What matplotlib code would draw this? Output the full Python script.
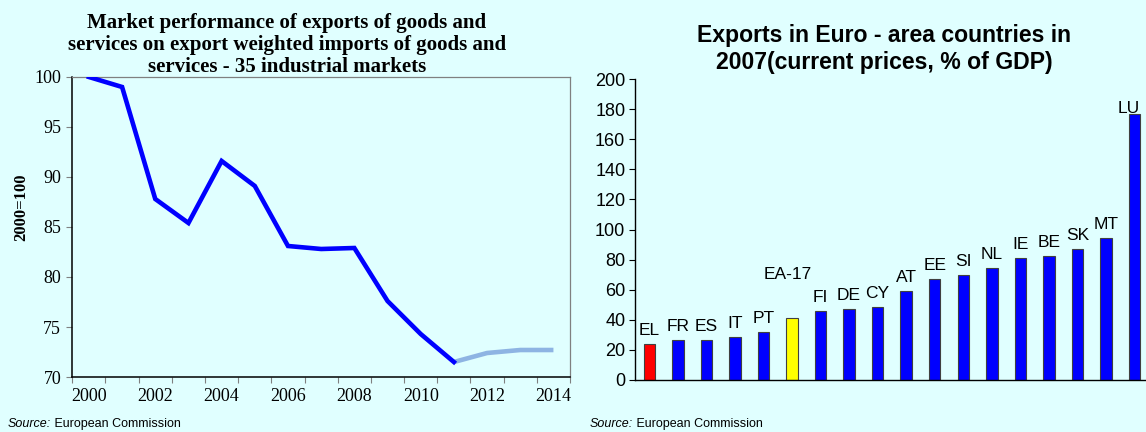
import numpy as np
import matplotlib.pyplot as plt

# --- donnees graphique de gauche
annees = [2000, 2001, 2002, 2003, 2004, 2005, 2006, 2007, 2008, 2009, 2010, 2011, 2012, 2013, 2014]
performance = [100, 99.0, 87.8, 85.4, 91.6, 89.1, 83.1, 82.8, 82.9, 77.6, 74.3, 71.5, 72.4, 72.7, 72.7]
derniere_annee_obs = 2011

# --- donnees graphique de droite
pays = ['EL', 'FR', 'ES', 'IT', 'PT', 'EA-17', 'FI', 'DE', 'CY', 'AT', 'EE', 'SI',
        'NL', 'IE', 'BE', 'SK', 'MT', 'LU']
exports = [23.7, 26.6, 26.6, 28.6, 31.9, 41.2, 45.6, 47.0, 48.3, 58.9, 66.9, 69.5,
           74.4, 80.8, 82.6, 86.8, 94.4, 176.5]

fond = '#E0FFFF'
serif = 'Liberation Serif'
sans = 'Liberation Sans'

fig = plt.figure(figsize=(11.46, 4.32), dpi=100, facecolor=fond)

# ---------------- gauche
ax1 = fig.add_axes([0.0631, 0.1273, 0.4343, 0.6945], facecolor=fond)
x = np.arange(len(annees))
i_split = annees.index(derniere_annee_obs)
ax1.plot(x[i_split:], performance[i_split:], color='#8EB4E3', lw=3.3, solid_capstyle='butt', zorder=2)
ax1.plot(x[:i_split + 1], performance[:i_split + 1], color='#0000FF', lw=3.3,
         solid_joinstyle='miter', zorder=3)
ax1.set_xlim(-0.5, len(annees) - 0.5)
ax1.set_ylim(70, 100)
ax1.set_yticks(np.arange(70, 101, 5))
ax1.set_xticks(np.arange(-0.5, len(annees), 1))
ax1.set_xticklabels([])
ax1.set_xticks(x[::2], minor=True)
ax1.set_xticklabels([str(a) for a in annees[::2]], minor=True)
ax1.tick_params(axis='x', which='major', length=4, color='#808080', direction='out')
ax1.tick_params(axis='x', which='minor', length=0, pad=8)
ax1.tick_params(axis='y', length=4, color='#808080', pad=4)
for lab in ax1.get_yticklabels() + ax1.get_xticklabels(minor=True):
    lab.set_fontfamily(serif)
    lab.set_fontsize(13)
for s in ['top', 'right']:
    ax1.spines[s].set_color('#808080')
    ax1.spines[s].set_linewidth(0.9)
for s in ['left', 'bottom']:
    ax1.spines[s].set_color('black')
    ax1.spines[s].set_linewidth(1.1)
ax1.set_ylabel('2000=100', fontfamily=serif, fontweight='bold', fontsize=12)
ax1.yaxis.set_label_coords(-0.087, 0.567)
fig.text(287 / 1146, 1 - 72 / 432,
         'Market performance of exports of goods and\n'
         'services on export weighted imports of goods and\n'
         'services - 35 industrial markets',
         ha='center', va='baseline', fontfamily=serif, fontweight='bold', fontsize=15,
         linespacing=1.12)

# ---------------- droite
ax2 = fig.add_axes([0.5541, 0.1204, 0.4459, 0.6967], facecolor=fond)
couleurs = ['#FF0000' if p == 'EL' else '#FFFF00' if p == 'EA-17' else '#0000FF' for p in pays]
xb = np.arange(len(pays))
ax2.bar(xb, exports, width=0.4, color=couleurs, edgecolor='#404040', linewidth=0.8, zorder=2)
decalage = {'EA-17': 24, 'LU': -1}
for i, (p, v) in enumerate(zip(pays, exports)):
    dx = {'EA-17': -0.15, 'LU': -0.2}.get(p, 0)
    ax2.text(i + dx, v + decalage.get(p, 4), p, ha='center', va='bottom',
             fontfamily=sans, fontsize=12.5)
ax2.set_xlim(-0.5, 17.4)
ax2.set_ylim(0, 200)
ax2.set_yticks(np.arange(0, 201, 20))
ax2.set_xticks([])
ax2.tick_params(axis='y', length=4, color='black', labelsize=13, pad=3)
for lab in ax2.get_yticklabels():
    lab.set_fontfamily(sans)
for s in ['top', 'right']:
    ax2.spines[s].set_visible(False)
ax2.spines['left'].set_linewidth(1.0)
ax2.spines['bottom'].set_linewidth(1.0)
fig.text(884 / 1146, 1 - 69 / 432,
         'Exports in Euro - area countries in\n2007(current prices, % of GDP)',
         ha='center', va='baseline', fontfamily=sans, fontweight='bold', fontsize=16.6,
         linespacing=1.2)

# sources
for xs in (8, 590):
    t = fig.text(xs / 1146, 0.012, 'Source:', fontfamily=sans, fontstyle='italic', fontsize=9)
    ax1.annotate(' European Commission', xy=(1, 0), xycoords=t, fontfamily=sans,
                 fontsize=9, va='bottom', ha='left', annotation_clip=False)

fig.savefig('out.png', dpi=100, facecolor=fond)
